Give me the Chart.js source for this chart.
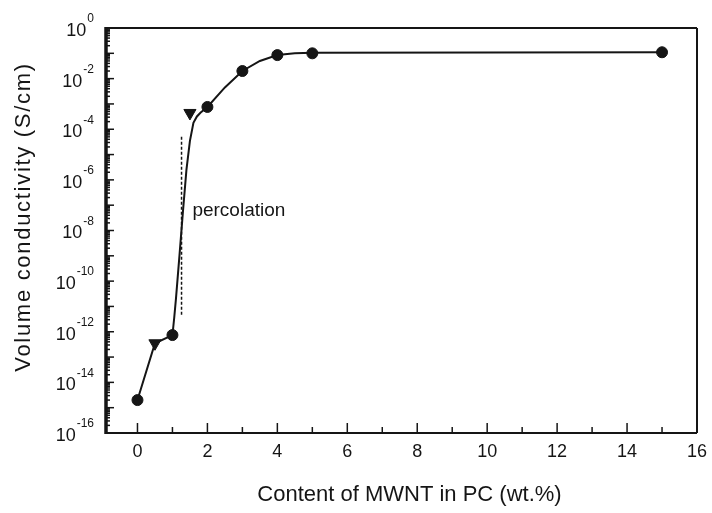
<!DOCTYPE html>
<html><head><meta charset="utf-8">
<script src="https://cdn.jsdelivr.net/npm/chart.js@4/dist/chart.umd.min.js"></script>
<style>html,body{margin:0;padding:0;background:#fff}</style>
</head><body>
<canvas id="c" width="712" height="513"></canvas>
<script>
// measured data points (wt.% MWNT, S/cm)
const contentWt = [0, 0.5, 1, 1.5, 2, 3, 4, 5, 15];
const conductivity = [2.0e-15, 3.5e-13, 7.4e-13, 4.4e-4, 7.6e-4, 2.0e-2, 8.5e-2, 1.0e-1, 1.1e-1];
const markerShapes = ['circle', 'triangle', 'circle', 'triangle', 'circle', 'circle', 'circle', 'circle', 'circle'];
const markerRotation = [0, 180, 0, 180, 0, 0, 0, 0, 0];
const markerSizes = [5.5, 7, 5.5, 7, 5.5, 5.5, 5.5, 5.5, 5.5];

// fitted curve
const fitX = [0, 0.5, 1.0, 1.05, 1.1, 1.2, 1.3, 1.4, 1.5, 1.6, 1.7, 1.8, 2, 2.5, 3, 3.5, 4, 4.5, 5, 15];
const fitY = [2.0e-15, 3.5e-13, 7.4e-13, 3.5e-12, 2.0e-11, 1.0e-9, 5.6e-8, 2.5e-6, 3.5e-5, 1.8e-4, 3.2e-4, 4.5e-4, 7.6e-4, 4.5e-3, 2.0e-2, 5.0e-2, 8.5e-2, 1.0e-1, 1.05e-1, 1.1e-1];

// percolation marker line
const percolationX = [1.26, 1.26];
const percolationY = [5e-5, 4e-12];
const percolationLabel = 'percolation';
const percolationLabelAt = [1.57, 6.3e-8];

// axes
const xTickValues = [0,1,2,3,4,5,6,7,8,9,10,11,12,13,14,15,16];
const xTickLabels = ['0','','2','','4','','6','','8','','10','','12','','14','','16'];
const yDecadeExponents = [0,-1,-2,-3,-4,-5,-6,-7,-8,-9,-10,-11,-12,-13,-14,-15,-16];
const yLabelExponents = ['0','-2','-4','-6','-8','-10','-12','-14','-16'];
const xTitle = 'Content of MWNT in PC (wt.%)';
const yTitle = 'Volume conductivity (S/cm)';

const INK = '#151515';
const FONT = '"Liberation Sans", Arial, sans-serif';

const pts = contentWt.map((v, i) => ({x: v, y: conductivity[i]}));
const fit = fitX.map((v, i) => ({x: v, y: fitY[i]}));
const perc = percolationX.map((v, i) => ({x: v, y: percolationY[i]}));

const framePlugin = {
  id: 'frame',
  beforeDatasetsDraw(chart) {
    const {ctx, chartArea: a, scales: {x, y}} = chart;
    ctx.save();
    ctx.strokeStyle = INK;
    const line = (x1, y1, x2, y2) => { ctx.beginPath(); ctx.moveTo(x1, y1); ctx.lineTo(x2, y2); ctx.stroke(); };
    ctx.lineWidth = 1.5;
    x.ticks.forEach(t => {
      const px = x.getPixelForValue(t.value);
      const len = (t.value % 2 === 0) ? 10 : 6;
      line(px, a.bottom, px, a.bottom - len);
    });
    y.ticks.forEach(t => {
      const py = y.getPixelForValue(t.value);
      const len = t.major ? 8 : 4;
      line(a.left, py, a.left + len, py);
    });
    ctx.lineWidth = 2;
    line(a.left, a.top, a.right, a.top);
    line(a.right, a.top, a.right, a.bottom);
    line(a.left, a.bottom, a.right, a.bottom);
    ctx.lineWidth = 3.5;
    line(a.left, a.top - 1, a.left, a.bottom + 1);
    ctx.restore();
  },
  afterDraw(chart) {
    const {ctx, chartArea: a, scales: {x, y}} = chart;
    ctx.save();
    ctx.fillStyle = INK;
    // x tick labels
    ctx.font = '18px ' + FONT;
    ctx.textAlign = 'center';
    ctx.textBaseline = 'middle';
    xTickValues.forEach((v, i) => {
      if (!xTickLabels[i]) return;
      ctx.fillText(xTickLabels[i], x.getPixelForValue(v), 452);
    });
    // y tick labels 10^n
    yLabelExponents.forEach(e => {
      const py = y.getPixelForValue(Number('1e' + e));
      ctx.font = '12px ' + FONT;
      ctx.textAlign = 'right';
      const ew = ctx.measureText(e).width;
      ctx.fillText(e, 94, py - 9);
      ctx.font = '18px ' + FONT;
      ctx.fillText('10', 94 - ew - 1, py + 3);
    });
    // percolation label
    ctx.font = '19px ' + FONT;
    ctx.textAlign = 'left';
    ctx.fillText(percolationLabel, x.getPixelForValue(percolationLabelAt[0]), y.getPixelForValue(percolationLabelAt[1]));
    // axis titles
    ctx.font = '22px ' + FONT;
    ctx.textAlign = 'center';
    ctx.fillText(xTitle, (a.left + a.right) / 2 + 8, 495);
    ctx.translate(24, 217);
    ctx.rotate(-Math.PI / 2);
    ctx.letterSpacing = '1.7px';
    ctx.fillText(yTitle, 0, 0);
    ctx.restore();
  }
};

new Chart(document.getElementById('c'), {
  type: 'scatter',
  data: {
    datasets: [
      {data: fit, showLine: true, borderColor: INK, borderWidth: 2, pointRadius: 0, tension: 0, order: 2},
      {data: perc, showLine: true, borderColor: INK, borderWidth: 1.5, borderDash: [3, 2], pointRadius: 0, order: 3},
      {data: pts, showLine: false, pointStyle: markerShapes, rotation: markerRotation, pointRadius: markerSizes,
       backgroundColor: INK, borderColor: INK, borderWidth: 1, order: 1}
    ]
  },
  options: {
    responsive: false,
    animation: false,
    layout: {padding: {top: 28, right: 15, left: 0, bottom: 0}},
    plugins: {legend: {display: false}, tooltip: {enabled: false}},
    scales: {
      x: {
        type: 'linear', min: -0.9, max: 16,
        grid: {display: false}, border: {display: false},
        ticks: {display: false},
        afterBuildTicks: s => { s.ticks = xTickValues.map(v => ({value: v})); },
        afterFit: s => { s.height = 80; }
      },
      y: {
        type: 'logarithmic', min: 1e-16, max: 1,
        grid: {display: false}, border: {display: false},
        ticks: {display: false},
        afterBuildTicks: s => {
          const t = [];
          yDecadeExponents.forEach(e => {
            t.push({value: Number('1e' + e), major: true});
            if (e < 0) for (let m = 2; m <= 9; m++) t.push({value: m * Number('1e' + e), major: false});
          });
          s.ticks = t;
        },
        afterFit: s => { s.width = 106; }
      }
    }
  },
  plugins: [framePlugin]
});
</script>
</body></html>
